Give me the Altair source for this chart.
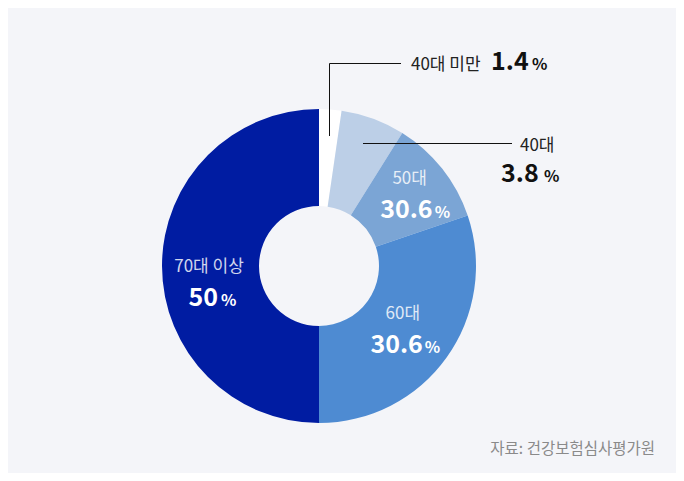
import altair as alt
import pandas as pd

# ---- data ----
groups = ["40대 미만", "40대", "50대", "60대", "70대 이상"]
arc_shares = [2.3, 6.6, 10.9, 30.2, 50.0]          # slice sizes as drawn
value_labels = ["1.4", "3.8", "30.6", "30.6", "50"]  # printed percentages
slice_order = [0, 1, 2, 3, 4]
source_text = ["자료: 건강보험심사평가원"]

colors = ["#ffffff", "#bccfe7", "#7ba5d5", "#4e8bd2", "#001ca2"]

df = pd.DataFrame({
    "group": groups,
    "share": arc_shares,
    "label": value_labels,
    "ord": slice_order,
})

FONT = "Noto Sans CJK KR"
CX, CY = 311, 258  # donut centre in view coordinates

base = alt.Chart(df).encode(
    theta=alt.Theta("share:Q", stack=True),
    order=alt.Order("ord:Q"),
)

arcs = base.mark_arc(innerRadius=60, outerRadius=157).encode(
    color=alt.Color("group:N", scale=alt.Scale(domain=groups, range=colors), legend=None),
    x=alt.value(CX),
    y=alt.value(CY),
)

layers = [arcs]

# in-slice labels: (group, name_dx, name_dy, num_dx, num_dy, pct_dx, radius)
inner_layout = [
    ("50대", 2, -11.5, 25, 22.5, 27, 113),
    ("60대", -4, -9.5, 16, 24.5, 18, 108),
    ("70대 이상", 0, 6, 9, 39.5, 12, 110),
]
for g, ndx, ndy, vdx, vdy, pdx, r in inner_layout:
    sel = alt.datum.group == g
    name = base.mark_text(radius=r, dx=ndx, dy=ndy, baseline="alphabetic", align="center",
                          font=FONT, fontSize=17, color="#ffffff").encode(
        x=alt.value(CX), y=alt.value(CY),
        text=alt.condition(sel, "group:N", alt.value("")),
        opacity=alt.value(0.82),
    )
    num = base.mark_text(radius=r, dx=vdx, dy=vdy, baseline="alphabetic", align="right",
                         font=FONT, fontSize=25, fontWeight="bold", color="#ffffff").encode(
        x=alt.value(CX), y=alt.value(CY),
        text=alt.condition(sel, "label:N", alt.value("")),
    )
    pct = base.mark_text(radius=r, dx=pdx, dy=vdy, baseline="alphabetic", align="left",
                         font=FONT, fontSize=16, fontWeight="bold", color="#ffffff").encode(
        x=alt.value(CX), y=alt.value(CY),
        text=alt.condition(sel, alt.value("%"), alt.value("")),
    )
    layers += [name, num, pct]

# leader lines
lead1v = alt.Chart(df).transform_filter(alt.datum.group == groups[0]).mark_rule(
    color="#111111", strokeWidth=1).encode(
    x=alt.value(321.5), y=alt.value(55.5), y2=alt.value(128))
lead1h = alt.Chart(df).transform_filter(alt.datum.group == groups[0]).mark_rule(
    color="#111111", strokeWidth=1).encode(
    x=alt.value(321.5), x2=alt.value(393), y=alt.value(55.5))
lead2h = alt.Chart(df).transform_filter(alt.datum.group == groups[1]).mark_rule(
    color="#111111", strokeWidth=1).encode(
    x=alt.value(355), x2=alt.value(504), y=alt.value(135.5))
layers += [lead1v, lead1h, lead2h]


def outer_text(g, field, x, y, size, weight, color="#1a1a1a"):
    src = alt.Chart(df).transform_filter(alt.datum.group == g)
    mark = src.mark_text(align="left", baseline="alphabetic", font=FONT, fontSize=size,
                         fontWeight=weight, color=color)
    if field is None:
        return mark.encode(x=alt.value(x), y=alt.value(y), text=alt.value("%"))
    return mark.encode(x=alt.value(x), y=alt.value(y), text=f"{field}:N")


layers += [
    outer_text(groups[0], "group", 403, 61.5, 17, "normal", "#222222"),
    outer_text(groups[0], "label", 483, 61.5, 25, "bold", "#111111"),
    outer_text(groups[0], None, 524, 61.5, 16, "bold", "#111111"),
    outer_text(groups[1], "group", 512, 143, 17, "normal", "#222222"),
    outer_text(groups[1], "label", 493, 173.5, 25, "bold", "#111111"),
    outer_text(groups[1], None, 536, 173.5, 16, "bold", "#111111"),
]

src_df = pd.DataFrame({"src": source_text})
source = alt.Chart(src_df).mark_text(align="right", baseline="middle", font=FONT,
                                     fontSize=15.5, color="#8a8a8a").encode(
    x=alt.value(647), y=alt.value(441), text="src:N")
layers.append(source)

chart = alt.layer(*layers).properties(
    width=668, height=465, autosize="none", padding=0,
    background="#f4f5f9",
).configure_view(strokeWidth=0)

chart.save("out.html", embed_options={"renderer": "svg", "actions": False})
